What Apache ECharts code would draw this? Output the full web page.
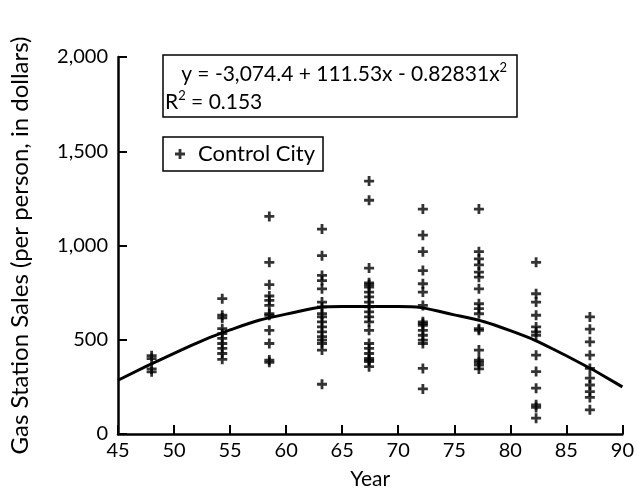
<!DOCTYPE html>
<html>
<head>
<meta charset="utf-8">
<script src="https://cdn.jsdelivr.net/npm/echarts@6/dist/echarts.min.js"></script>
<style>
  html, body { margin: 0; padding: 0; background: #fff; }
  #scatter_fit { width: 637px; height: 495px; }
</style>
</head>
<body>
<div id="scatter_fit"></div>
<script>
// Years (x) and sales per person for each year column
var years = [48, 54.3, 58.5, 63.2, 67.4, 72.2, 77.2, 82.3, 87.1];
var salesByYear = [
    [415, 400, 345, 330],
    [718, 630, 616, 559, 533, 507, 480, 454, 427, 396],
    [1154, 911, 792, 732, 709, 682, 638, 630, 550, 480, 392, 380],
    [1087, 946, 841, 814, 770, 700, 674, 638, 621, 595, 568, 542, 516, 498, 480, 445, 264],
    [1342, 1240, 880, 802, 792, 779, 753, 727, 700, 674, 648, 621, 595, 550, 480, 454, 427, 401, 392, 384, 357],
    [1193, 1055, 967, 867, 797, 753, 682, 595, 586, 577, 550, 524, 498, 480, 348, 239],
    [1193, 967, 929, 897, 859, 832, 770, 691, 665, 638, 559, 550, 445, 392, 380, 366, 345],
    [911, 744, 700, 630, 568, 542, 524, 418, 331, 243, 155, 141, 84],
    [621, 556, 489, 418, 348, 296, 260, 225, 194, 128]
];

// Fitted curve
var fitYears = [45, 50, 55, 60, 65, 70, 75, 80, 85, 90];
var fitSales = [285, 428, 552, 636, 676, 676, 632, 548, 415, 250];

var plusIcon = 'path://M3.6,0H6.4V3.6H10V6.4H6.4V10H3.6V6.4H0V3.6H3.6Z';

var scatterPoints = [];
years.forEach(function(yr, i) {
    salesByYear[i].forEach(function(v) {
        scatterPoints.push([yr, v]);
    });
});

var fitPoints = fitYears.map(function(yr, i) {
    return [yr, fitSales[i]];
});

var chartDom = document.getElementById('scatter_fit');
var chart = echarts.init(chartDom);

var fontFam = 'Lato, "Open Sans", sans-serif';

chart.setOption({
    animation: false,

    textStyle: {
        fontFamily: fontFam,
        color: '#000'
    },

    grid: {
        left: 118,
        right: 13,
        top: 57,
        bottom: 59
    },

    // Equation box
    title: [{
        left: 163,
        top: 55,
        padding: [5, 10, 5, 2],
        borderColor: '#000',
        borderWidth: 1.5,
        text: '{n|   y = -3,074.4 + 111.53x - 0.82831x}{s|2}\n{n|R}{s|2}{n| = 0.153}',
        textStyle: {
            rich: {
                n: { fontFamily: fontFam, fontSize: 21, fontWeight: 'normal', color: '#000', lineHeight: 28 },
                s: { fontFamily: fontFam, fontSize: 13, fontWeight: 'normal', color: '#000', lineHeight: 28, verticalAlign: 'top', padding: [1, 0, 0, 0] }
            }
        }
    }],

    legend: {
        left: 163,
        top: 137,
        padding: [6, 8, 6, 12],
        borderColor: '#000',
        borderWidth: 1.5,
        itemWidth: 10,
        itemHeight: 10,
        itemGap: 10,
        data: [{ name: 'Control City', icon: plusIcon }],
        textStyle: {
            fontFamily: fontFam,
            fontSize: 22,
            color: '#000',
            padding: [0, 0, 0, 8]
        }
    },

    xAxis: {
        type: 'value',
        min: 45,
        max: 90,
        interval: 5,
        name: 'Year',
        nameLocation: 'middle',
        nameGap: 35,
        nameTextStyle: { fontSize: 21, color: '#000' },
        axisLine: { lineStyle: { color: '#000', width: 2.5 } },
        axisTick: { inside: true, length: 9, lineStyle: { color: '#000', width: 2 } },
        axisLabel: { fontSize: 20, color: '#000', margin: 7 },
        splitLine: { show: false }
    },

    yAxis: {
        type: 'value',
        min: 0,
        max: 2000,
        interval: 500,
        name: 'Gas Station Sales (per person, in dollars)',
        nameLocation: 'middle',
        nameGap: 86,
        nameTextStyle: { fontSize: 24, color: '#000' },
        axisLine: { show: true, lineStyle: { color: '#000', width: 2.5 } },
        axisTick: { show: true, inside: true, length: 9, lineStyle: { color: '#000', width: 2 } },
        axisLabel: {
            fontSize: 20,
            color: '#000',
            margin: 10,
            formatter: function(v) { return v.toLocaleString('en-US'); }
        },
        splitLine: { show: false }
    },

    series: [
        {
            name: 'Control City',
            type: 'scatter',
            symbol: plusIcon,
            symbolSize: 10,
            itemStyle: { color: '#000' },
            data: scatterPoints,
            z: 3
        },
        {
            name: 'Fit',
            type: 'line',
            smooth: true,
            showSymbol: false,
            lineStyle: { color: '#000', width: 3 },
            data: fitPoints,
            z: 2
        }
    ]
});
</script>
</body>
</html>
